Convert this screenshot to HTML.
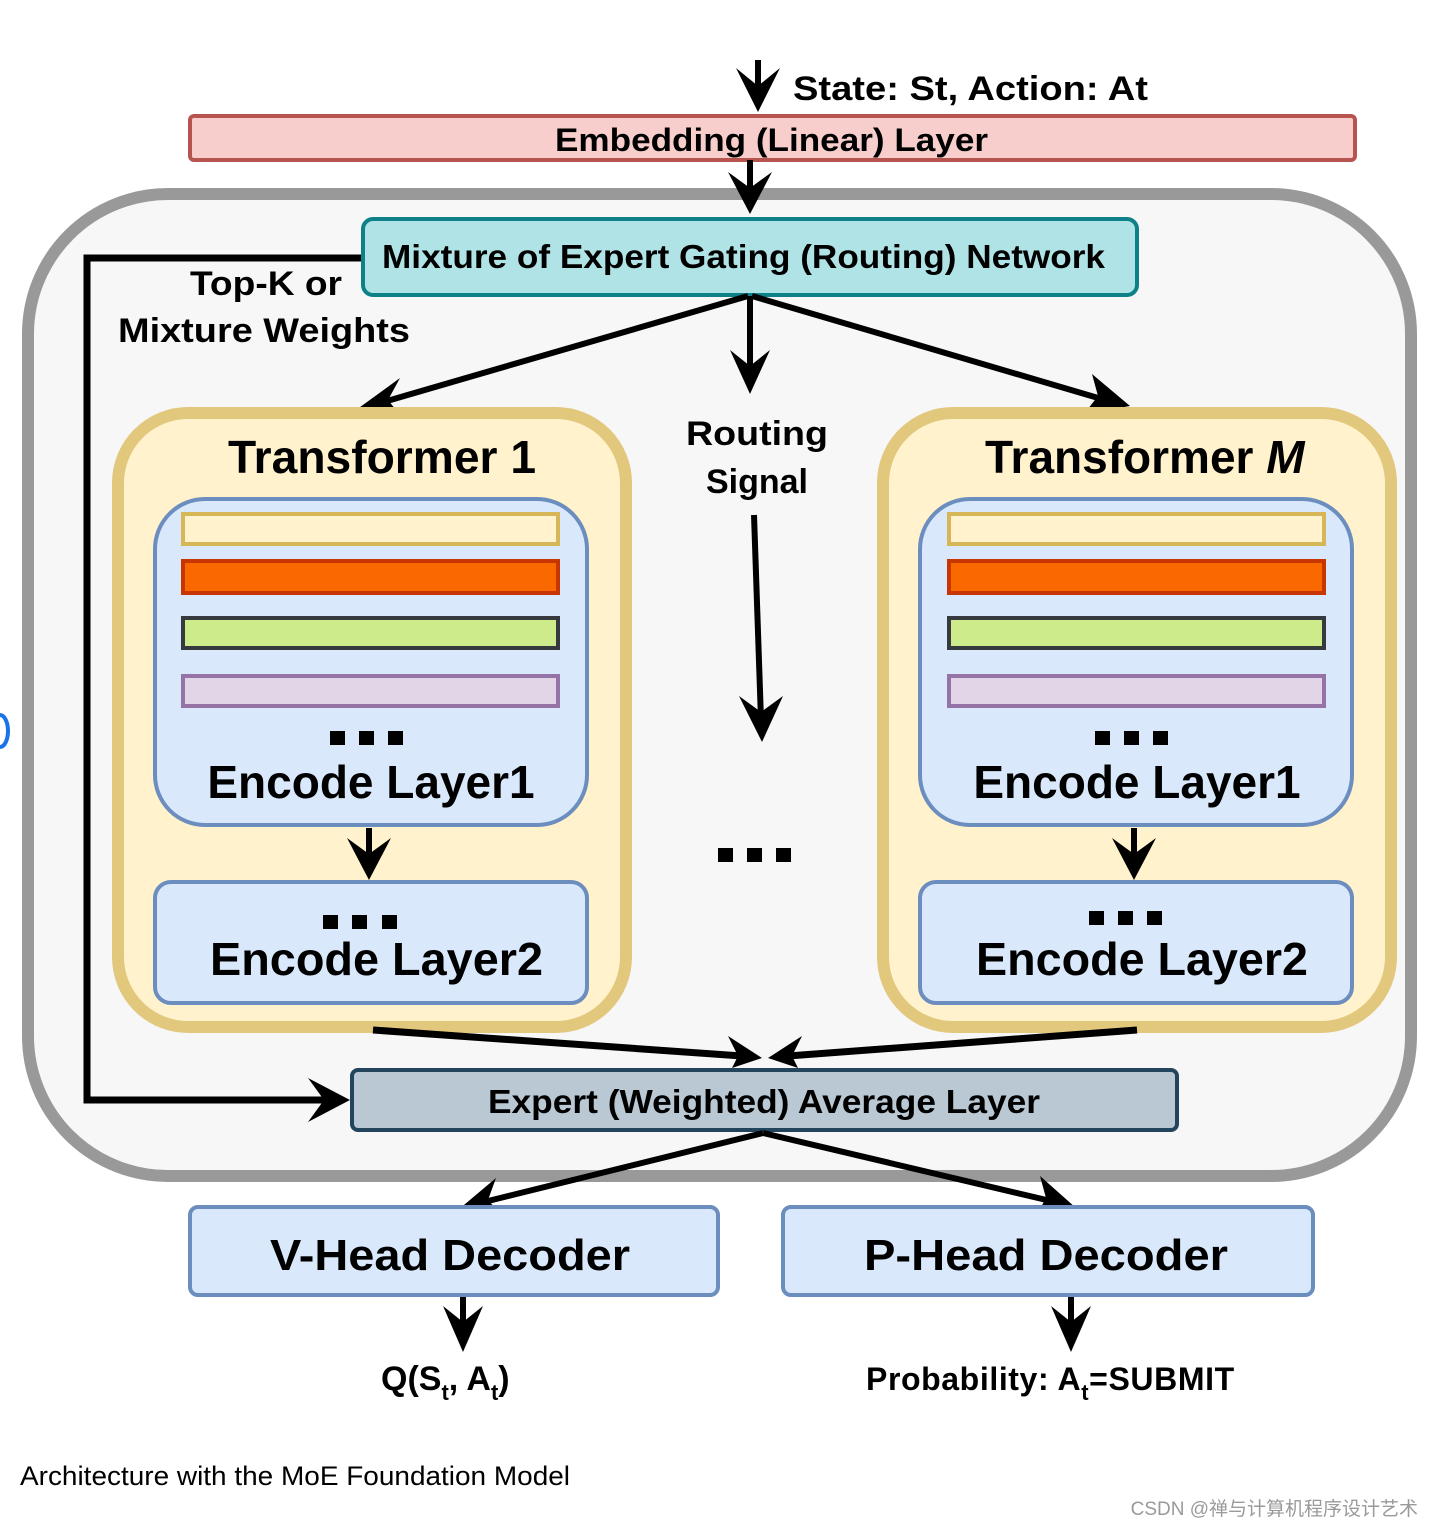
<!DOCTYPE html>
<html><head><meta charset="utf-8"><style>
html,body{margin:0;padding:0;background:#fff;width:1435px;height:1527px;overflow:hidden}
svg{display:block}
text{font-family:"Liberation Sans",sans-serif;fill:#000}
.b{font-weight:bold}
</style></head><body>
<svg width="1435" height="1527" viewBox="0 0 1435 1527" xmlns="http://www.w3.org/2000/svg">
<rect x="28" y="194" width="1383" height="982" rx="140" fill="#f7f7f7" stroke="#999" stroke-width="12"/>
<line x1="758" y1="60" x2="758" y2="95" stroke="#000" stroke-width="6"/>
<polygon points="736,68 758,112 780,68 758,86" fill="#000"/>
<text x="793" y="100" font-size="34" class="b" textLength="355" lengthAdjust="spacingAndGlyphs">State: St, Action: At</text>
<rect x="190" y="116" width="1165" height="44" rx="4" fill="#f8cecc" stroke="#b85450" stroke-width="4"/>
<text x="555" y="151" font-size="32" class="b" textLength="433" lengthAdjust="spacingAndGlyphs">Embedding (Linear) Layer</text>
<line x1="750" y1="160" x2="750" y2="195" stroke="#000" stroke-width="6"/>
<polygon points="728,172 750,214 772,172 750,188" fill="#000"/>
<polyline points="363,258 87,258 87,1100 330,1100" fill="none" stroke="#000" stroke-width="7"/>
<polygon points="308,1078 350,1100 308,1122 324,1100" fill="#000"/>
<rect x="363" y="219" width="774" height="76" rx="10" fill="#b0e3e6" stroke="#0e8088" stroke-width="4"/>
<text x="382" y="268" font-size="33" class="b" textLength="723" lengthAdjust="spacingAndGlyphs">Mixture of Expert Gating (Routing) Network</text>
<text x="190" y="295" font-size="34" class="b" textLength="152" lengthAdjust="spacingAndGlyphs">Top-K or</text>
<text x="118" y="342" font-size="34" class="b" textLength="292" lengthAdjust="spacingAndGlyphs">Mixture Weights</text>
<line x1="748" y1="296" x2="380" y2="403" stroke="#000" stroke-width="6"/>
<polygon points="356,410 400,378 388,400 404,420" fill="#000"/>
<line x1="750" y1="296" x2="750" y2="375" stroke="#000" stroke-width="6"/>
<polygon points="730,350 750,394 770,350 750,366" fill="#000"/>
<line x1="752" y1="296" x2="1105" y2="400" stroke="#000" stroke-width="6"/>
<polygon points="1130,406 1084,414 1098,396 1092,374" fill="#000"/>
<rect x="118" y="413" width="508" height="614" rx="70" fill="#fff2cc" stroke="#e2c87d" stroke-width="12"/>
<text x="228" y="473" font-size="46" class="b" textLength="308" lengthAdjust="spacingAndGlyphs">Transformer 1</text>
<rect x="155" y="499" width="432" height="326" rx="50" fill="#dae8fc" stroke="#6c8ebf" stroke-width="4"/>
<rect x="183" y="514" width="375" height="30" fill="#fff2cc" stroke="#d6b656" stroke-width="4"/>
<rect x="183" y="561" width="375" height="32" fill="#fa6800" stroke="#c73500" stroke-width="4"/>
<rect x="183" y="618" width="375" height="30" fill="#cdeb8b" stroke="#36393d" stroke-width="4"/>
<rect x="183" y="676" width="375" height="30" fill="#e1d5e7" stroke="#9673a6" stroke-width="4"/>
<rect x="330" y="731" width="15" height="14" fill="#000"/><rect x="359" y="731" width="15" height="14" fill="#000"/><rect x="388" y="731" width="15" height="14" fill="#000"/>
<text x="371" y="798" font-size="46" class="b" text-anchor="middle">Encode Layer1</text>
<line x1="369" y1="828" x2="369" y2="862" stroke="#000" stroke-width="6"/>
<polygon points="347,838 369,880 391,838 369,854" fill="#000"/>
<rect x="155" y="882" width="432" height="121" rx="16" fill="#dae8fc" stroke="#6c8ebf" stroke-width="4"/>
<rect x="323" y="915" width="15" height="14" fill="#000"/><rect x="352" y="915" width="15" height="14" fill="#000"/><rect x="382" y="915" width="15" height="14" fill="#000"/>
<text x="210" y="975" font-size="46" class="b" textLength="333" lengthAdjust="spacingAndGlyphs">Encode Layer2</text>
<rect x="883" y="413" width="508" height="614" rx="70" fill="#fff2cc" stroke="#e2c87d" stroke-width="12"/>
<text x="985" y="473" font-size="46" class="b">Transformer <tspan font-style="italic">M</tspan></text>
<rect x="920" y="499" width="432" height="326" rx="50" fill="#dae8fc" stroke="#6c8ebf" stroke-width="4"/>
<rect x="949" y="514" width="375" height="30" fill="#fff2cc" stroke="#d6b656" stroke-width="4"/>
<rect x="949" y="561" width="375" height="32" fill="#fa6800" stroke="#c73500" stroke-width="4"/>
<rect x="949" y="618" width="375" height="30" fill="#cdeb8b" stroke="#36393d" stroke-width="4"/>
<rect x="949" y="676" width="375" height="30" fill="#e1d5e7" stroke="#9673a6" stroke-width="4"/>
<rect x="1095" y="731" width="15" height="14" fill="#000"/><rect x="1124" y="731" width="15" height="14" fill="#000"/><rect x="1153" y="731" width="15" height="14" fill="#000"/>
<text x="1137" y="798" font-size="46" class="b" text-anchor="middle">Encode Layer1</text>
<line x1="1134" y1="828" x2="1134" y2="862" stroke="#000" stroke-width="6"/>
<polygon points="1112,838 1134,880 1156,838 1134,854" fill="#000"/>
<rect x="920" y="882" width="432" height="121" rx="16" fill="#dae8fc" stroke="#6c8ebf" stroke-width="4"/>
<rect x="1089" y="911" width="15" height="14" fill="#000"/><rect x="1118" y="911" width="15" height="14" fill="#000"/><rect x="1147" y="911" width="15" height="14" fill="#000"/>
<text x="976" y="975" font-size="46" class="b" textLength="332" lengthAdjust="spacingAndGlyphs">Encode Layer2</text>
<text x="757" y="445" font-size="34" class="b" text-anchor="middle" textLength="142" lengthAdjust="spacingAndGlyphs">Routing</text>
<text x="757" y="493" font-size="34" class="b" text-anchor="middle">Signal</text>
<line x1="754" y1="515" x2="761" y2="720" stroke="#000" stroke-width="6"/>
<polygon points="739,696 762,742 783,696 761,712" fill="#000"/>
<rect x="718" y="848" width="15" height="14" fill="#000"/><rect x="747" y="848" width="15" height="14" fill="#000"/><rect x="776" y="848" width="15" height="14" fill="#000"/>
<line x1="373" y1="1030" x2="742" y2="1056" stroke="#000" stroke-width="7"/>
<polygon points="762,1058 728,1036 738,1056 732,1068" fill="#000"/>
<line x1="1137" y1="1030" x2="788" y2="1056" stroke="#000" stroke-width="7"/>
<polygon points="768,1058 802,1036 792,1056 798,1068" fill="#000"/>
<rect x="352" y="1070" width="825" height="60" rx="6" fill="#bac8d3" stroke="#23445d" stroke-width="4"/>
<text x="488" y="1113" font-size="33" class="b" textLength="552" lengthAdjust="spacingAndGlyphs">Expert (Weighted) Average Layer</text>
<line x1="763" y1="1133" x2="480" y2="1203" stroke="#000" stroke-width="6"/>
<polygon points="458,1210 496,1178 488,1200 504,1218" fill="#000"/>
<line x1="763" y1="1133" x2="1055" y2="1202" stroke="#000" stroke-width="6"/>
<polygon points="1076,1208 1036,1216 1046,1198 1040,1176" fill="#000"/>
<rect x="190" y="1207" width="528" height="88" rx="8" fill="#dae8fc" stroke="#6c8ebf" stroke-width="4"/>
<text x="270" y="1270" font-size="44" class="b" textLength="360" lengthAdjust="spacingAndGlyphs">V-Head Decoder</text>
<rect x="783" y="1207" width="530" height="88" rx="8" fill="#dae8fc" stroke="#6c8ebf" stroke-width="4"/>
<text x="864" y="1270" font-size="44" class="b" textLength="364" lengthAdjust="spacingAndGlyphs">P-Head Decoder</text>
<line x1="463" y1="1297" x2="463" y2="1330" stroke="#000" stroke-width="6"/>
<polygon points="443,1306 463,1352 483,1306 463,1322" fill="#000"/>
<line x1="1071" y1="1297" x2="1071" y2="1330" stroke="#000" stroke-width="6"/>
<polygon points="1051,1306 1071,1352 1091,1306 1071,1322" fill="#000"/>
<text x="381" y="1390" font-size="34" class="b">Q(S<tspan font-size="22" dy="10">t</tspan><tspan dy="-10">, A</tspan><tspan font-size="22" dy="10">t</tspan><tspan dy="-10">)</tspan></text>
<text x="866" y="1390" font-size="32" class="b" letter-spacing="0.6">Probability: A<tspan font-size="22" dy="10">t</tspan><tspan dy="-10">=SUBMIT</tspan></text>
<text x="20" y="1485" font-size="27" textLength="550" lengthAdjust="spacingAndGlyphs">Architecture with the MoE Foundation Model</text>
<text x="1418" y="1515" font-size="19" style="fill:#9a9a9a;font-family:'Liberation Sans','Noto Sans CJK SC',sans-serif" text-anchor="end">CSDN @禅与计算机程序设计艺术</text>
<path d="M0,715 A8,16 0 0 1 0,747" fill="none" stroke="#1a73e8" stroke-width="4"/>
</svg>
</body></html>
